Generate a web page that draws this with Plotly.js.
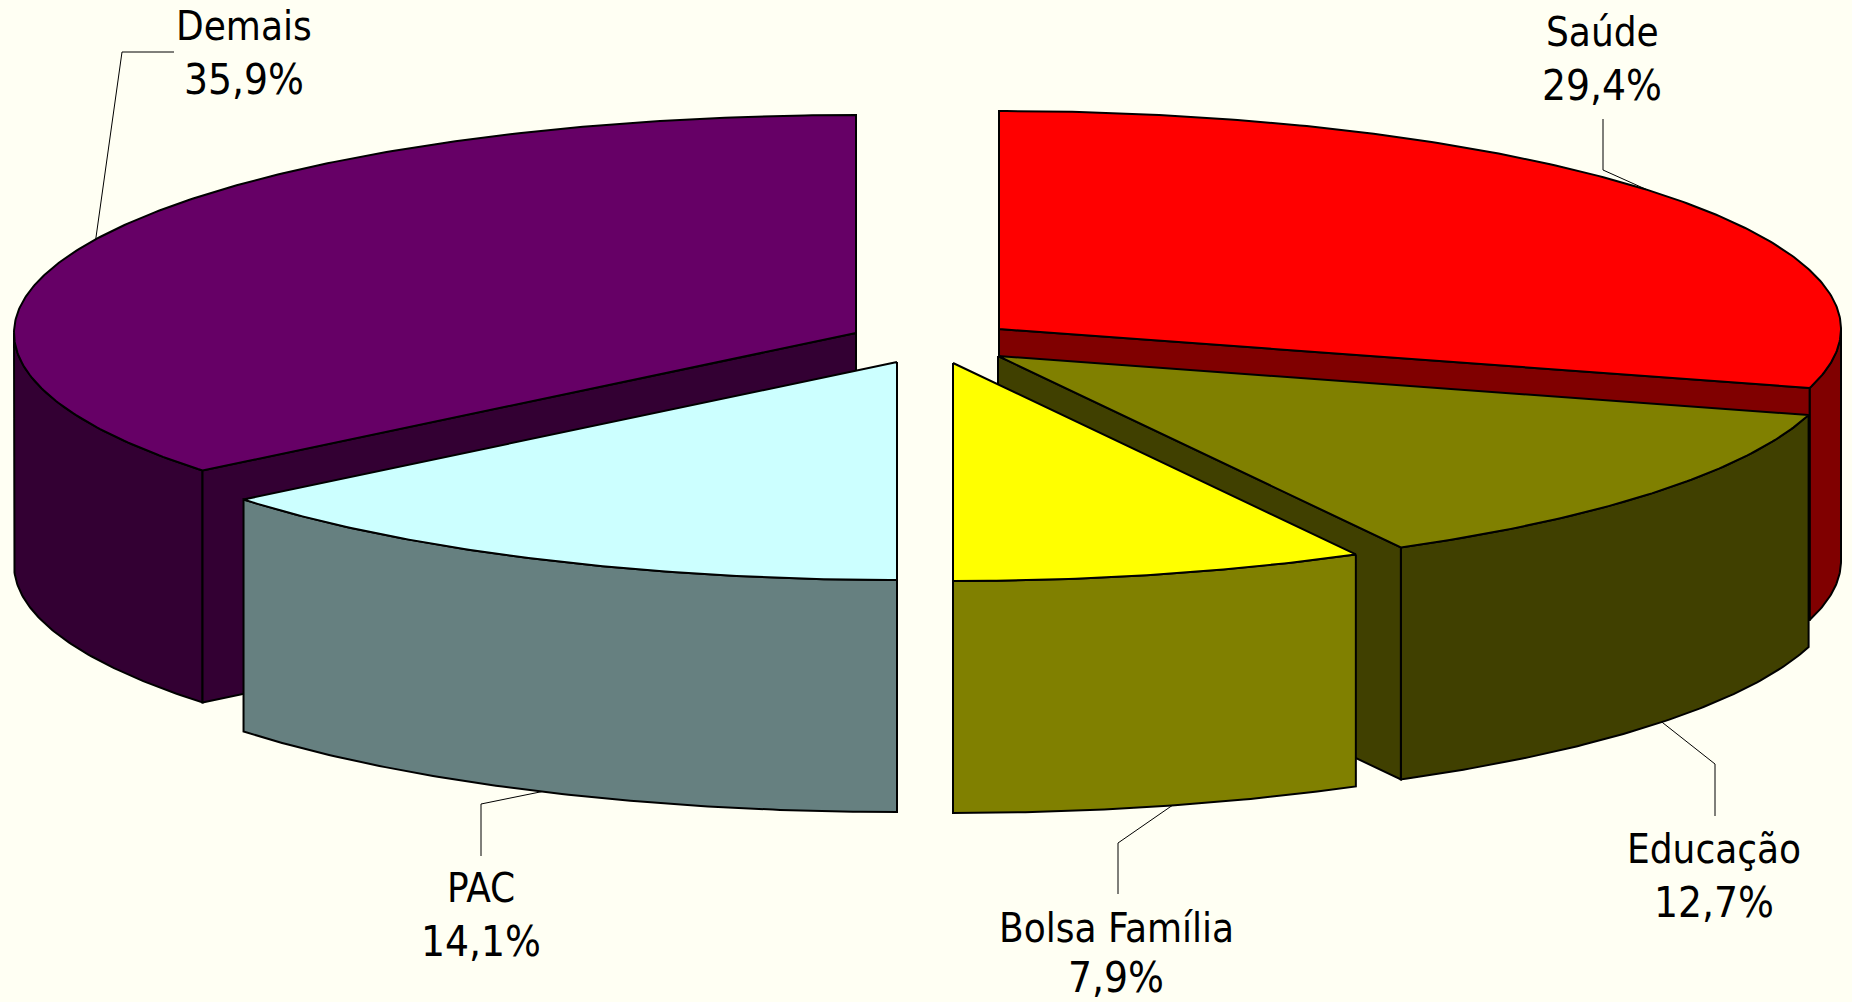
<!DOCTYPE html>
<html>
<head>
<meta charset="utf-8">
<script src="https://cdn.plot.ly/plotly-3.0.1.min.js"></script>
<style>html,body{margin:0;padding:0;background:#fffff3;overflow:hidden}</style>
</head>
<body>
<div id="chart" style="width:1852px;height:1002px"></div>
<script>
// Data: clockwise from 12 o'clock (printed labels are one-decimal roundings)
const categories = ['Saúde', 'Educação', 'Bolsa Família', 'PAC', 'Demais'];
const shares = [29.36, 12.70, 7.94, 14.14, 35.86];
const shareLabels = ['29,4%', '12,7%', '7,9%', '14,1%', '35,9%'];

// Styles
const topColors = ['#ff0000', '#808000', '#ffff00', '#ccffff', '#660066'];
const wallColors = ['#800000', '#404000', '#808000', '#668080', '#330033'];

// Exploded pie geometry (pixels)
const radiusX = 842, radiusY = 218, depth = 232;
const apexX = [999, 998, 953, 897, 856];
const apexY = [329, 356, 363, 362, 333];
const showEndWall = [true, true, false, false, true];

// Label layout (pixels)
const labelX = [1602, 1714, 1116, 481, 244];
const nameY = [32, 849, 928, 888, 26];
const valueY = [85, 902, 977, 941, 79];
const leaderElbow = [[1603, 170], [1715, 764], [1118, 843], [481, 804], [122, 52]];
const leaderEnd = [[1603, 119], [1715, 816], [1118, 894], [481, 856], [174, 52]];
const leaderOnWall = [false, true, true, true, false];
const leaderAngleNudge = [-2.5, -0.6, -0.8, -0.5, 0];

const total = shares.reduce((a, b) => a + b, 0);
const toAngle = v => v / total * 360;
const rad = d => d * Math.PI / 180;
const px = (i, a) => apexX[i] + radiusX * Math.sin(rad(a));
const py = (i, a) => apexY[i] - radiusY * Math.cos(rad(a));

function arc(i, a0, a1) {
  const n = Math.max(2, Math.ceil(Math.abs(a1 - a0) * 2));
  const xs = [], ys = [];
  for (let k = 0; k <= n; k++) {
    const a = a0 + (a1 - a0) * k / n;
    xs.push(px(i, a)); ys.push(py(i, a));
  }
  return [xs, ys];
}
function poly(name, xs, ys, fill) {
  return {
    type: 'scatter', mode: 'lines', name, x: xs, y: ys, fill: 'toself', fillcolor: fill,
    line: {color: '#000000', width: 2, shape: 'linear'}, hoverinfo: 'name', showlegend: false
  };
}

const traces = [], annotations = [];
const drawOrder = [4, 0, 1, 2, 3];
const starts = [];
shares.reduce((acc, v, i) => { starts[i] = acc; return acc + toAngle(v); }, 0);

drawOrder.forEach(i => {
  const a0 = starts[i], a1 = a0 + toAngle(shares[i]);
  // curved outer wall: only the front half (90..270 deg) faces the viewer
  const w0 = Math.max(a0, 90), w1 = Math.min(a1, 270);
  if (w1 > w0) {
    const [xs, ys] = arc(i, w0, w1);
    traces.push(poly(categories[i] + ' wall',
      xs.concat(xs.slice().reverse(), [xs[0]]),
      ys.concat(ys.map(y => y + depth).reverse(), [ys[0]]), wallColors[i]));
  }
  // flat cut wall
  const cut = i === 4 ? a0 : a1;
  if (showEndWall[i]) {
    const ex = px(i, cut), ey = py(i, cut);
    traces.push(poly(categories[i] + ' cut',
      [apexX[i], ex, ex, apexX[i], apexX[i]],
      [apexY[i], ey, ey + depth, apexY[i] + depth, apexY[i]], wallColors[i]));
  }
  // top face
  const [tx, ty] = arc(i, a0, a1);
  traces.push(poly(categories[i], [apexX[i]].concat(tx, [apexX[i]]), [apexY[i]].concat(ty, [apexY[i]]), topColors[i]));
});

// leaders and labels
const fontFamily = '"DejaVu Sans Condensed", "DejaVu Sans", sans-serif';
categories.forEach((c, i) => {
  const mid = starts[i] + toAngle(shares[i]) / 2 + leaderAngleNudge[i];
  const ax = px(i, mid), ay = py(i, mid) + (leaderOnWall[i] ? depth : 0);
  traces.push({
    type: 'scatter', mode: 'lines', x: [ax, leaderElbow[i][0], leaderEnd[i][0]], y: [ay, leaderElbow[i][1], leaderEnd[i][1]],
    line: {color: '#000000', width: 1}, hoverinfo: 'skip', showlegend: false
  });
  [[c, nameY[i], 40], [shareLabels[i], valueY[i], 42]].forEach(([text, y, size]) => annotations.push({
    x: labelX[i], y, xref: 'x', yref: 'y', text, showarrow: false, xanchor: 'center', yanchor: 'middle',
    font: {family: fontFamily, size, color: '#000000'}
  }));
});

Plotly.newPlot('chart', traces, {
  width: 1852, height: 1002,
  margin: {l: 0, r: 0, t: 0, b: 0, pad: 0},
  paper_bgcolor: '#fffff3', plot_bgcolor: '#fffff3',
  xaxis: {range: [0, 1852], visible: false, fixedrange: true},
  yaxis: {range: [1002, 0], visible: false, fixedrange: true},
  annotations, showlegend: false
}, {displayModeBar: false, staticPlot: true});
</script>
</body>
</html>
